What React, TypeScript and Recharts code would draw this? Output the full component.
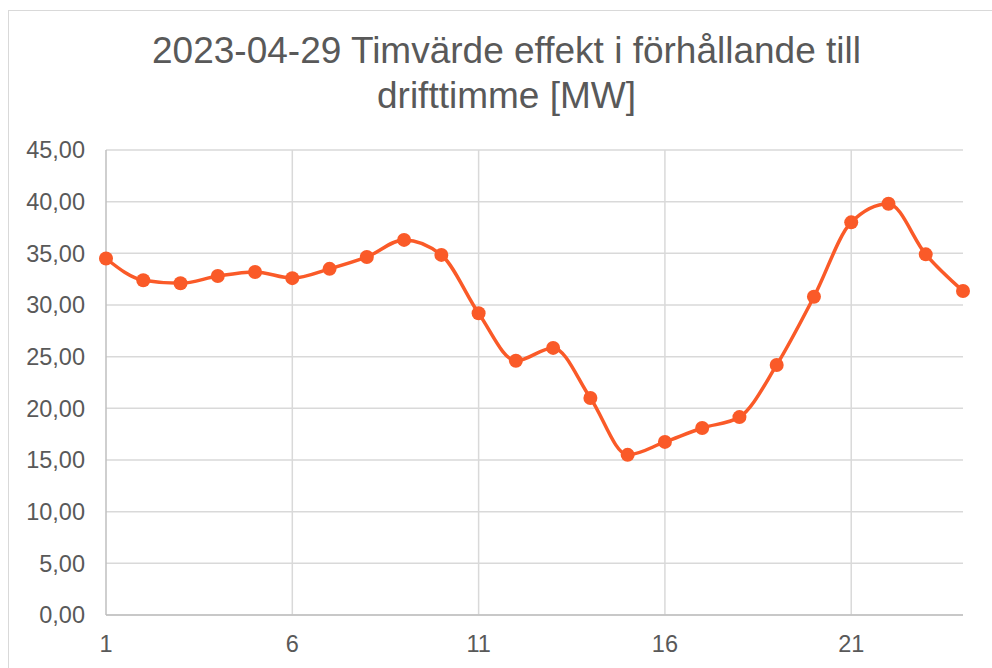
import { LineChart, Line, XAxis, YAxis, CartesianGrid, ReferenceLine } from "recharts";

const hours = [1, 2, 3, 4, 5, 6, 7, 8, 9, 10, 11, 12, 13, 14, 15, 16, 17, 18, 19, 20, 21, 22, 23, 24];
const effectMW = [
  34.5, 32.4, 32.1, 32.8, 33.2, 32.6, 33.5, 34.65, 36.3, 34.85, 29.2, 24.6,
  25.85, 21.0, 15.5, 16.75, 18.1, 19.15, 24.2, 30.8, 38.0, 39.8, 34.9, 31.35,
];
const xTicks = [1, 6, 11, 16, 21];
const yTicks = [0, 5, 10, 15, 20, 25, 30, 35, 40, 45];
const titleLines = ["2023-04-29 Timvärde effekt i förhållande till", "drifttimme [MW]"];

const font = "'Liberation Sans', Arial, sans-serif";
const textColor = "#595959";
const lineColor = "#fa5a28";
const gridColor = "#d9d9d9";

const chartData = hours.map((h, i) => ({ hour: h, value: effectMW[i] }));

const fmt = (v: number) => v.toFixed(2).replace(".", ",");

export default function App() {
  return (
    <div
      style={{
        position: "absolute",
        left: 0,
        top: 0,
        width: 992,
        height: 668,
        overflow: "hidden",
        background: "#fff",
        fontFamily: font,
      }}
    >
      <div
        style={{
          position: "absolute",
          left: 8,
          top: 10,
          width: 995,
          height: 720,
          border: "1px solid #d9d9d9",
        }}
      />
      <div
        style={{
          position: "absolute",
          left: 8,
          top: 28,
          width: 997,
          textAlign: "center",
          color: textColor,
          fontSize: 37,
          lineHeight: "45px",
        }}
      >
        {titleLines.map((t) => (
          <div key={t}>{t}</div>
        ))}
      </div>
      <div style={{ position: "absolute", left: 0, top: 0 }}>
        <LineChart
          width={992}
          height={668}
          data={chartData}
          margin={{ top: 150, right: 29, bottom: 23, left: 0 }}
        >
          <CartesianGrid stroke={gridColor} strokeWidth={1.5} vertical={false} />
          {/* vertical grid only at the x ticks (no line at the plot's right edge) */}
          {xTicks.slice(1).map((t) => (
            <ReferenceLine key={t} x={t} stroke={gridColor} strokeWidth={1.5} />
          ))}
          <XAxis
            dataKey="hour"
            type="number"
            domain={[1, 24]}
            ticks={xTicks}
            height={30}
            tickLine={false}
            tickSize={0}
            tickMargin={20}
            axisLine={{ stroke: "#bfbfbf", strokeWidth: 1.5 }}
            tick={{ fill: textColor, fontSize: 23.5, fontFamily: font }}
          />
          <YAxis
            type="number"
            domain={[0, 45]}
            ticks={yTicks}
            width={106}
            tickLine={false}
            tickSize={0}
            tickMargin={21}
            tickFormatter={fmt}
            axisLine={{ stroke: "#bfbfbf", strokeWidth: 1.5 }}
            tick={{ fill: textColor, fontSize: 23.5, fontFamily: font }}
          />
          <Line
            type="monotone"
            dataKey="value"
            stroke={lineColor}
            strokeWidth={3.5}
            dot={{ r: 7, fill: lineColor, stroke: lineColor, strokeWidth: 0 }}
            isAnimationActive={false}
          />
        </LineChart>
      </div>
    </div>
  );
}
